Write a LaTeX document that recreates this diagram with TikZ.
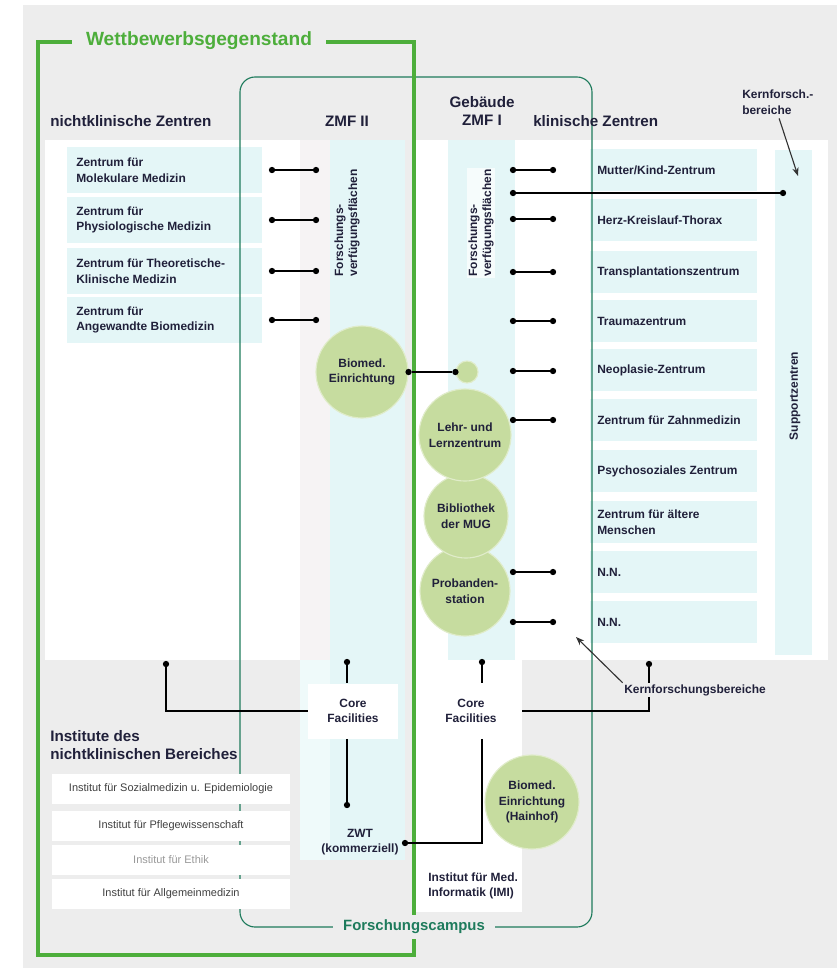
\documentclass[tikz,border=0pt]{standalone}
\usepackage{fontspec}
\setmainfont{Liberation Sans}
\usepackage{xcolor}
\usepackage{tikz}
\usetikzlibrary{positioning,calc,arrows.meta}

\definecolor{framegreen}{HTML}{4DAE3B}
\definecolor{campusteal}{HTML}{1E7B5C}
\definecolor{bggray}{HTML}{EDEDED}
\definecolor{stripcyan}{HTML}{E4F6F7}
\definecolor{panelpink}{HTML}{F6F3F4}
\definecolor{bubblegreen}{HTML}{C6DC9F}
\definecolor{labelink}{HTML}{20203A}

\tikzset{
  hdr/.style={font=\bfseries\fontsize{10.8}{13}\selectfont, text=labelink, inner sep=0pt},
  lbl/.style={font=\bfseries\fontsize{8.5}{11}\selectfont, text=labelink, align=left, anchor=west, inner sep=0pt},
  inst/.style={font=\fontsize{7.8}{9}\selectfont, fill=white, minimum width=5.95cm, minimum height=0.75cm, inner sep=0pt},
  bubble/.style={circle, fill=bubblegreen, draw=white!45!bubblegreen, line width=0.8pt, inner sep=0pt, align=center, font=\bfseries\fontsize{8.5}{11}\selectfont, text=labelink},
  corebox/.style={fill=white, align=center, minimum height=1.375cm, inner sep=0pt, font=\bfseries\fontsize{8.5}{11}\selectfont, text=labelink},
  knob/.style={circle, fill=black, inner sep=0pt, minimum size=4.5pt},
  link/.style={line width=0.9pt, black},
  vlabel/.style={rotate=90, font=\bfseries\fontsize{8.5}{10}\selectfont, align=left, text=labelink, inner sep=1pt},
  pointer/.style={-{Stealth[length=6pt,width=4.5pt]}, line width=0.8pt, black!80},
}

\begin{document}
\begin{tikzpicture}[x=0.025cm, y=-0.025cm]
\useasboundingbox (0,0) rectangle (840,973);

% background and panels
\fill[bggray] (23,5) rectangle (837,968);
\fill[white] (45,140) rectangle (300,660);
\fill[white] (414,140) rectangle (828,660);
\fill[white] (414,660) rectangle (522,912);
\fill[panelpink] (300,140) rectangle (330,660);
\fill[white!40!stripcyan] (300,660) rectangle (330,860);
\fill[stripcyan] (330,140) rectangle (405,860);
\fill[stripcyan] (448,140) rectangle (515,660);
\fill[stripcyan] (775,150) rectangle (812,655);
\foreach \y in {170,220,271,320}
  \fill[stripcyan] (67,{\y-23}) rectangle (262,{\y+23});
\foreach \y in {170,220,272,321,370,420,471,522,572,622}
  \fill[stripcyan] (590,{\y-21}) rectangle (757,{\y+21});

% frames
\draw[campusteal, line width=0.8pt, rounded corners=0.375cm] (240,77) rectangle (592,927);
\draw[framegreen, line width=2.8pt] (38,42) rectangle (414,955);
\node[font=\bfseries\fontsize{10.6}{12}\selectfont, text=campusteal, fill=bggray, inner xsep=7pt] (campusLbl) at (414,927) {Forschungscampus};
\node[font=\bfseries\fontsize{13.6}{15}\selectfont, text=framegreen, fill=bggray, inner xsep=10pt] (contestLbl) at (199,41) {Wettbewerbsgegenstand};

% headers
\node[hdr, anchor=west] (nkHead) at (50,121) {nichtklinische Zentren};
\node[hdr] (zmf2Head) at (347,121) {ZMF II};
\node[hdr, align=center] (zmf1Head) at (482,111) {Gebäude\\ZMF I};
\node[hdr, anchor=west] (kzHead) at (533,121) {klinische Zentren};
\node[hdr, anchor=west, align=left] (instHead) at (50,745) {Institute des\\nichtklinischen Bereiches};

\node[vlabel] (fvf2) at (347,223) {Forschungs-\\verfügungsflächen};
\node[vlabel, fill=white!65!stripcyan] (fvf1) at (481,223) {Forschungs-\\verfügungsflächen};
\node[vlabel] (support) at (795,396) {Supportzentren};

% nichtklinische Zentren
\foreach \y/\txt [count=\i] in {170/{Zentrum für\\Molekulare Medizin}, 220/{Zentrum für\\Physiologische Medizin}, 271/{Zentrum für Theoretische-\\Klinische Medizin}, 320/{Zentrum für\\Angewandte Biomedizin}}
{
  \node[lbl] (nkz\i) at (76,\y) {\txt};
  \node[knob] (nkzA\i) at (272,\y) {};
  \node[knob] (nkzB\i) at (316,\y) {};
  \draw[link] (nkzA\i) -- (nkzB\i);
}

% klinische Zentren
\foreach \y/\txt [count=\i] in {170/{Mutter/Kind-Zentrum}, 220/{Herz-Kreislauf-Thorax}, 272/{Transplantationszentrum}, 321/{Traumazentrum}, 370/{Neoplasie-Zentrum}, 420/{Zentrum für Zahnmedizin}, 471/{Psychosoziales Zentrum}, 522/{Zentrum für ältere\\Menschen}, 572/{N.N.}, 622/{N.N.}}
  \node[lbl] (kz\i) at (597,\y) {\txt};
\foreach \y [count=\i] in {170,219,272,321,371,420,572,622}
{
  \node[knob] (kzA\i) at (513,\y) {};
  \node[knob] (kzB\i) at (553,\y) {};
  \draw[link] (kzA\i) -- (kzB\i);
}
\node[knob] (longA) at (513,193) {};
\node[knob] (longB) at (783,193) {};
\draw[link] (longA) -- (longB);

% bubbles
\node[bubble, minimum size=2.3cm] (bioA) at (362,372) {Biomed.\\Einrichtung};
\node[bubble, minimum size=0.55cm] (bioSmall) at (467,372) {};
\node[knob] (bioAdot) at (bioA.east) {};
\node[knob] (bioSmallDot) at (bioSmall.west) {};
\draw[link] (bioAdot) -- (bioSmallDot);
\node[bubble, minimum size=2.25cm] (prob) at (465,591) {Probanden-\\station};
\node[bubble, minimum size=2.1cm] (bib) at (466,516) {Bibliothek\\der MUG};
\node[bubble, minimum size=2.3cm] (lehr) at (465,435) {Lehr- und\\Lernzentrum};
\node[bubble, minimum size=2.35cm] (bioB) at (532,802) {Biomed.\\Einrichtung\\(Hainhof)};

% core facilities
\node[corebox, minimum width=2.25cm] (coreL) at (353,711) {Core\\Facilities};
\node[corebox, minimum width=2.55cm] (coreR) at (471,711) {Core\\Facilities};
\node[knob] (coreLdot) at (347,662) {};
\node[knob] (coreRdot) at (482,662) {};
\draw[link] (coreLdot) -- (coreLdot |- coreL.north);
\draw[link] (coreRdot) -- (coreRdot |- coreR.north);
\node[knob] (leftDot) at (166,664) {};
\draw[link] (coreL.west) -| (leftDot);
\node[knob] (zwtTop) at (347,805) {};
\draw[link] (zwtTop |- coreL.south) -- (zwtTop);
\node[lbl, anchor=center, align=center] (zwt) at (360,842) {ZWT\\(kommerziell)};
\node[knob] (zwtDot) at (405,843) {};
\draw[link] (coreRdot |- coreR.south) |- (zwtDot);
\node[knob] (kernDot) at (649,664) {};
\draw[link] (coreR.east) -| (kernDot);
\node[lbl, anchor=center, fill=bggray, inner sep=1pt] (kernB) at (695,690) {Kernforschungsbereiche};
\coordinate (nnTip) at (576,637);
\draw[pointer] (kernB.north west) -- (nnTip);
\node[lbl] (kernA) at (742,102) {Kernforsch.-\\bereiche};
\coordinate (kernTip) at (798,176);
\draw[pointer, shorten <=3pt] (kernA.south) -- (kernTip);

\node[lbl] (imi) at (428,886) {Institut für Med.\\Informatik (IMI)};

% Institute
\foreach \y/\txt/\ink [count=\i] in {789/{Institut für Sozialmedizin u. Epidemiologie}/black!75, 826/{Institut für Pflegewissenschaft}/black!75, 860/{Institut für Ethik}/black!40, 894/{Institut für Allgemeinmedizin}/black!75}
  \node[inst, text=\ink] (inst\i) at (171,\y) {\txt};
\end{tikzpicture}
\end{document}
